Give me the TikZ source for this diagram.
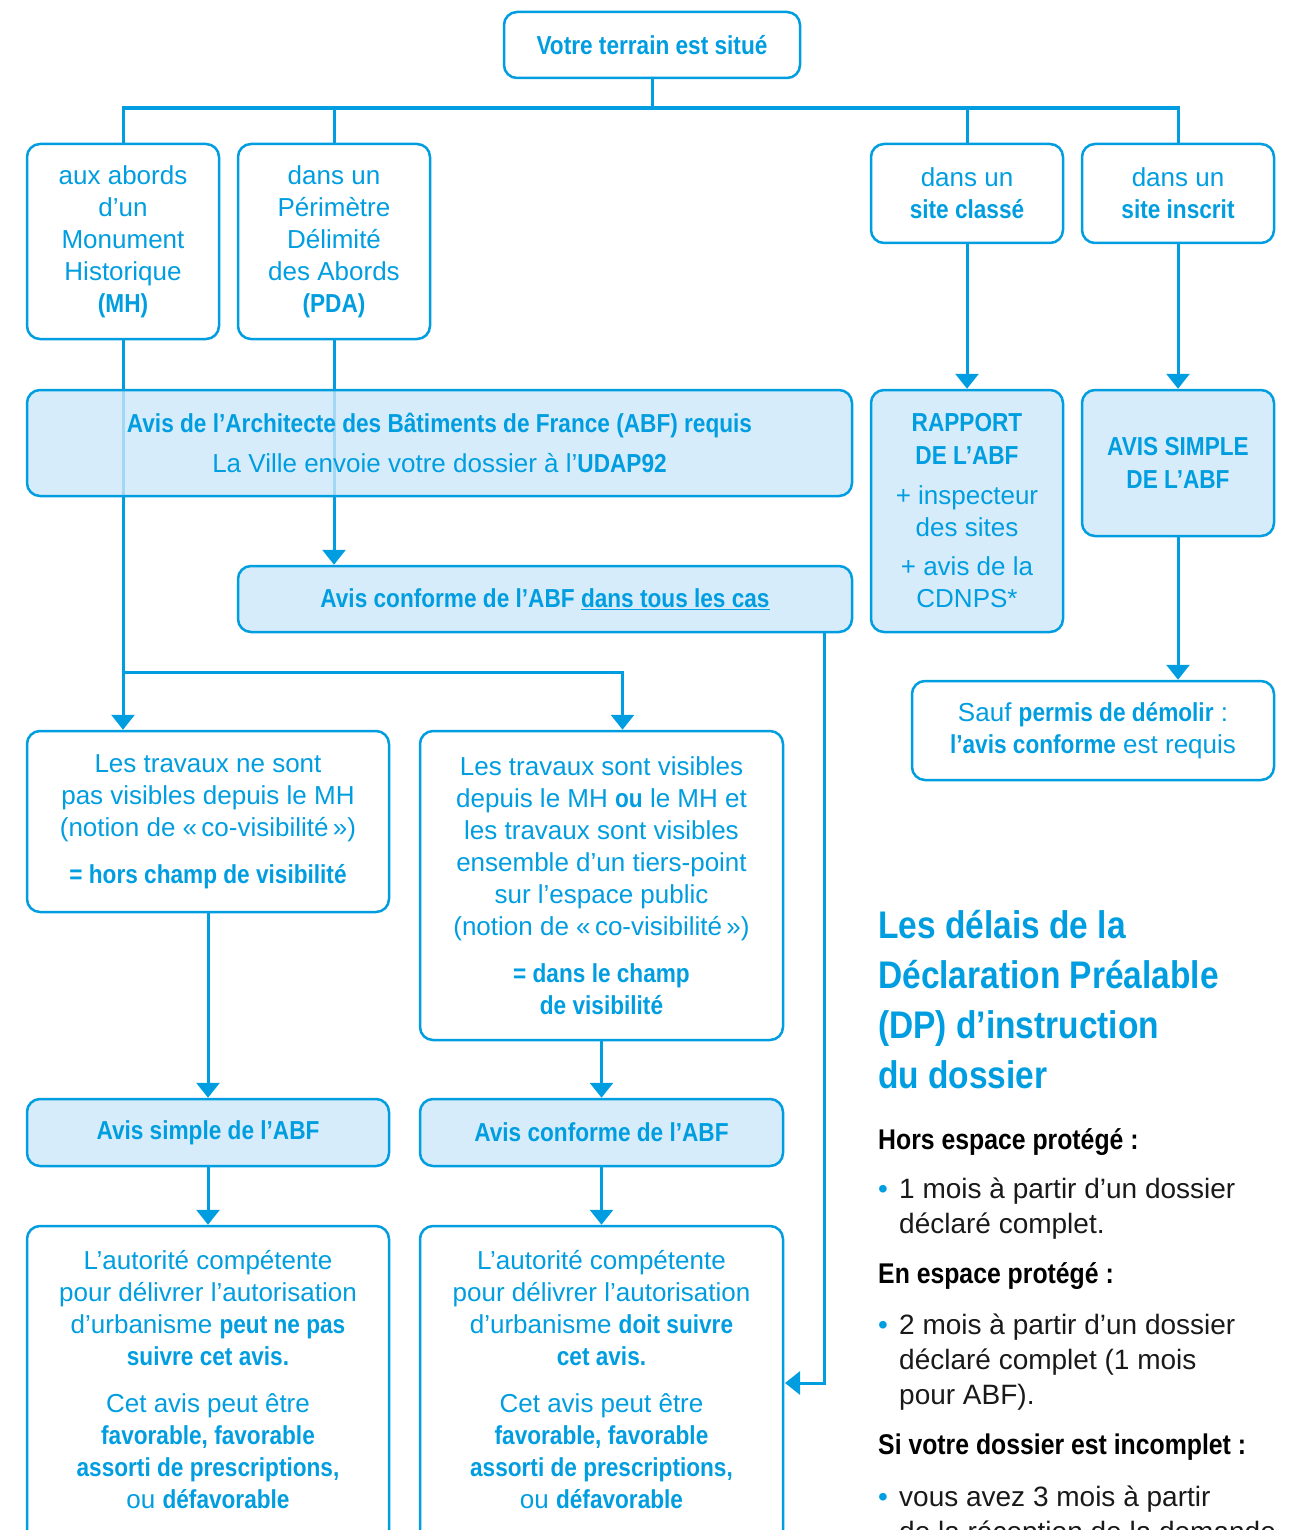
\documentclass[tikz,border=0pt]{standalone}
\usepackage{fontspec}
\setmainfont{Liberation Sans}[BoldFeatures={FakeStretch=0.87}]
\usetikzlibrary{arrows.meta,backgrounds}
\definecolor{bleu}{RGB}{0,158,224}
\definecolor{bleuclair}{RGB}{204,231,249}
\definecolor{noir}{RGB}{25,25,25}

\begin{document}
\begin{tikzpicture}[x=1pt,y=-1pt,
		boite/.style={draw=bleu, line width=2.5pt, rounded corners=13pt, fill=white, text=bleu, align=center, inner sep=0pt, font=\fontsize{26}{32}\selectfont},
		avis/.style={boite, fill=bleuclair, fill opacity=0.8, text opacity=1},
		lien/.style={draw=bleu, line width=3pt},
		fleche/.style={lien, -{Triangle[width=23pt,length=15pt]}},
		texte/.style={anchor=base west, align=left, inner sep=0pt}]
		\useasboundingbox (0,0) rectangle (1297,1530);
		\node[boite, minimum width=296, minimum height=66, font=\fontsize{26}{32}\selectfont\bfseries] (terrain) at (652,45) {Votre terrain est situé};
		\node[boite, minimum width=192, minimum height=195] (mh) at (123,241.5) {aux abords\\d’un\\Monument\\Historique\\\textbf{(MH)}};
		\node[boite, minimum width=192, minimum height=195] (pda) at (334,241.5) {dans un\\Périmètre\\Délimité\\des Abords\\\textbf{(PDA)}};
		\node[boite, minimum width=192, minimum height=99] (classe) at (967,193.5) {dans un\\\textbf{site classé}};
		\node[boite, minimum width=192, minimum height=99] (inscrit) at (1178,193.5) {dans un\\\textbf{site inscrit}};
		\node[avis, minimum width=825, minimum height=106] (abf) at (439.5,443) {\textbf{Avis de l’Architecte des Bâtiments de France (ABF) requis}\\[8pt]La Ville envoie votre dossier à l’\textbf{UDAP92}};
		\node[avis, minimum width=192, minimum height=242] (rapport) at (967,511) {\textbf{RAPPORT}\\[1pt]\textbf{DE L’ABF}\\[8pt]+ inspecteur\\des sites\\[7pt]+ avis de la\\CDNPS*};
		\node[avis, minimum width=192, minimum height=146] (simple) at (1178,463) {\textbf{AVIS SIMPLE}\\[1pt]\textbf{DE L’ABF}};
		\node[boite, minimum width=362, minimum height=99] (sauf) at (1093,730.5) {Sauf \textbf{permis de démolir} :\\\textbf{l’avis conforme} est requis};
		\node[avis, minimum width=614, minimum height=66] (conf) at (545,599) {\textbf{Avis conforme de l’ABF \underline{dans tous les cas}}};
		\node[boite, minimum width=362, minimum height=181] (nevis) at (208,821.5) {Les travaux ne sont\\pas visibles depuis le MH\\(notion de «\,co-visibilité\,»)\\[15pt]\textbf{= hors champ de visibilité}};
		\node[boite, minimum width=363, minimum height=309] (vis) at (601.5,885.5) {Les travaux sont visibles\\depuis le MH \textbf{ou} le MH et\\les travaux sont visibles\\ensemble d’un tiers-point\\sur l’espace public\\(notion de «\,co-visibilité\,»)\\[15pt]\textbf{= dans le champ}\\\textbf{de visibilité}};
		\node[avis, minimum width=362, minimum height=67] (avsimple) at (208,1132.5) {\textbf{Avis simple de l’ABF}};
		\node[avis, minimum width=363, minimum height=67] (avconf) at (601.5,1132.5) {\textbf{Avis conforme de l’ABF}};
		\node[boite, minimum width=362, minimum height=374] (autmh) at (208,1413) {L’autorité compétente\\pour délivrer l’autorisation\\d’urbanisme \textbf{peut ne pas}\\\textbf{suivre cet avis.}\\[15pt]Cet avis peut être\\\textbf{favorable, favorable}\\\textbf{assorti de prescriptions,}\\ou \textbf{défavorable}\\[35pt]\mbox{}};
		\node[boite, minimum width=363, minimum height=374] (autpda) at (601.5,1413) {L’autorité compétente\\pour délivrer l’autorisation\\d’urbanisme \textbf{doit suivre}\\\textbf{cet avis.}\\[15pt]Cet avis peut être\\\textbf{favorable, favorable}\\\textbf{assorti de prescriptions,}\\ou \textbf{défavorable}\\[35pt]\mbox{}};
		\node[texte, text=bleu, font=\fontsize{38.5}{50}\selectfont\bfseries] (titre) at (878,1088) {Les délais de la\\Déclaration Préalable\\(DP) d’instruction\\du dossier};
		\node[texte, font=\fontsize{28.5}{32}\selectfont\bfseries] (hors) at (878,1149) {Hors espace protégé :};
		\node[texte, text=noir, font=\fontsize{28}{35}\selectfont] (item1) at (878,1233) {\makebox[21pt][l]{\textcolor{bleu}{•}}1 mois à partir d’un dossier\\\hspace*{21pt}déclaré complet.};
		\node[texte, font=\fontsize{28.5}{32}\selectfont\bfseries] (en) at (878,1283) {En espace protégé :};
		\node[texte, text=noir, font=\fontsize{28}{35}\selectfont] (item2) at (878,1404) {\makebox[21pt][l]{\textcolor{bleu}{•}}2 mois à partir d’un dossier\\\hspace*{21pt}déclaré complet (1 mois\\\hspace*{21pt}pour ABF).};
		\node[texte, font=\fontsize{28.5}{32}\selectfont\bfseries] (si) at (878,1454) {Si votre dossier est incomplet :};
		\node[texte, text=noir, font=\fontsize{28}{35}\selectfont] (item3) at (878,1541) {\makebox[21pt][l]{\textcolor{bleu}{•}}vous avez 3 mois à partir\\\hspace*{21pt}de la réception de la demande};
		\coordinate (bus) at (0,108);
		\coordinate (coude) at (0,672);
		\coordinate (entree) at (785,1383);
		\begin{scope}[on background layer]
			\draw[lien] (terrain.south) -- (terrain.south |- bus);
			\draw[lien, line width=4.5pt, shorten <=-1.5pt, shorten >=-1.5pt] (mh.north |- bus) -- (inscrit.north |- bus);
			\foreach \n in {mh,pda,classe,inscrit}
				\draw[lien] (\n.north) -- (\n.north |- bus);
			\draw[fleche] (mh.south) -- (mh.south |- nevis.north);
			\draw[fleche] (mh.south |- coude) -| ([xshift=21]vis.north);
			\draw[fleche] (pda.south) -- (pda.south |- conf.north);
			\draw[fleche] (classe) -- (rapport);
			\draw[fleche] (inscrit) -- (simple);
			\draw[fleche] (simple) -- (simple |- sauf.north);
			\draw[fleche] ([xshift=-29]conf.south east) |- (entree);
			\draw[fleche] (nevis) -- (avsimple);
			\draw[fleche] (vis) -- (avconf);
			\draw[fleche] (avsimple) -- (autmh);
			\draw[fleche] (avconf) -- (autpda);
		\end{scope}
	\end{tikzpicture}
\end{document}
